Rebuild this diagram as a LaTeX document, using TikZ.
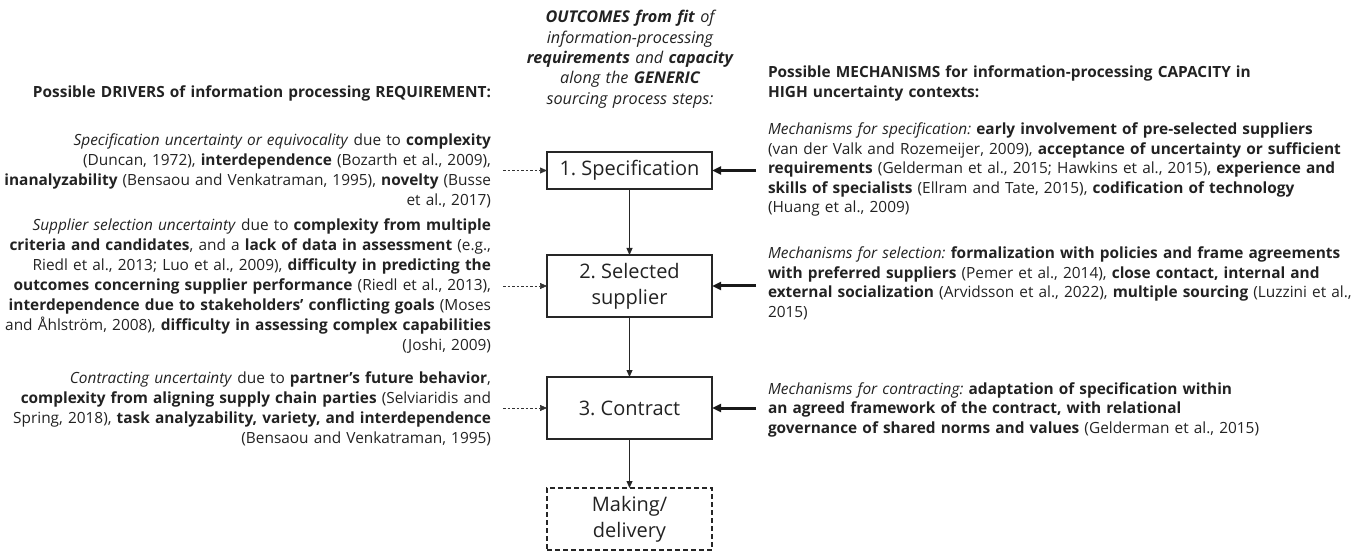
\documentclass[tikz,border=0pt]{standalone}
\usepackage{fontspec}
\setmainfont[Ligatures=NoCommon]{Open Sans}
\usetikzlibrary{arrows.meta}
\frenchspacing

\definecolor{ink}{HTML}{222222}

\tikzset{
  x=1pt, y=-1pt,
  every node/.style={inner sep=0pt, outer sep=0pt, text=ink},
  bodytext/.style={font=\fontsize{15.4}{20}\selectfont},
  mechtext/.style={font=\fontsize{15.4}{19.5}\selectfont},
  headtext/.style={font=\fontsize{16.2}{20.3}\selectfont\itshape},
  stepbox/.style={draw=black!85, line width=1.3pt, minimum width=165pt,
    align=center, font=\fontsize{20}{26}\selectfont},
  flowarrow/.style={-{Triangle[length=7pt,width=6pt]}, line width=0.8pt, draw=black!85},
  driverarrow/.style={-{Triangle[length=7pt,width=6pt]}, line width=0.7pt,
    dash pattern=on 2.5pt off 2pt, draw=black!80},
  mecharrow/.style={-{Triangle[length=9pt,width=8pt]}, line width=3pt, draw=black!90},
}

\begin{document}
\begin{tikzpicture}
\useasboundingbox (0,0) rectangle (1357,553);

% process steps
\node[stepbox, minimum height=37pt] (spec) at (629.5,170.5) {1. Specification};
\node[stepbox, minimum height=62pt] (sel)  at (629.5,286) {2. Selected\\supplier};
\node[stepbox, minimum height=62pt] (con)  at (629.5,408) {3. Contract};
\node[stepbox, minimum height=62pt, dashed, line width=1.2pt, dash pattern=on 5pt off 3pt] (make) at (629.5,519) {Making/\\delivery};

\draw[flowarrow] (spec) -- (sel);
\draw[flowarrow] (sel) -- (con);
\draw[flowarrow] (con) -- (make);

% centre heading
\node[headtext, align=center, anchor=base, text width=260pt] (outcomes) at (630,23)
  {\textbf{OUTCOMES from fit} of\\
   information-processing\\
   \textbf{requirements} and \textbf{capacity}\\
   along the \textbf{GENERIC}\\
   sourcing process steps:};

% drivers (left)
\node[bodytext, anchor=base east, align=right, text width=520pt] (drvhead) at (491,98)
  {\textbf{Possible DRIVERS of information processing REQUIREMENT:}};

\node[bodytext, anchor=base east, align=right, text width=520pt] (drvspec) at (491,146)
  {\textit{Specification uncertainty or equivocality} due to \textbf{complexity}\\
   (Duncan, 1972), \textbf{interdependence} (Bozarth et al., 2009),\\
   \textbf{inanalyzability} (Bensaou and Venkatraman, 1995), \textbf{novelty} (Busse\\
   et al., 2017)};

\node[bodytext, anchor=base east, align=right, text width=520pt] (drvsel) at (491,231)
  {\textit{Supplier selection uncertainty} due to \textbf{complexity from multiple}\\
   \textbf{criteria and candidates}, and a \textbf{lack of data in assessment} (e.g.,\\
   Riedl et al., 2013; Luo et al., 2009), \textbf{difficulty in predicting the}\\
   \textbf{outcomes concerning supplier performance} (Riedl et al., 2013),\\
   \textbf{interdependence due to stakeholders’ conflicting goals} (Moses\\
   and Åhlström, 2008), \textbf{difficulty in assessing complex capabilities}\\
   (Joshi, 2009)};

\node[bodytext, anchor=base east, align=right, text width=520pt] (drvcon) at (491,383)
  {\textit{Contracting uncertainty} due to \textbf{partner’s future behavior},\\
   \textbf{complexity from aligning supply chain parties} (Selviaridis and\\
   Spring, 2018), \textbf{task analyzability, variety, and interdependence}\\
   (Bensaou and Venkatraman, 1995)};

% mechanisms (right)
\node[mechtext, anchor=base west, align=left, text width=588pt] (mechhead) at (768,78)
  {\textbf{Possible MECHANISMS for information-processing CAPACITY in\\
   HIGH uncertainty contexts:}};

\node[mechtext, anchor=base west, align=left, text width=588pt] (mechspec) at (768,135)
  {\textit{Mechanisms for specification:} \textbf{early involvement of pre-selected suppliers}\\
   (van der Valk and Rozemeijer, 2009), \textbf{acceptance of uncertainty or sufficient}\\
   \textbf{requirements} (Gelderman et al., 2015; Hawkins et al., 2015), \textbf{experience and}\\
   \textbf{skills of specialists} (Ellram and Tate, 2015), \textbf{codification of technology}\\
   (Huang et al., 2009)};

\node[mechtext, anchor=base west, align=left, text width=588pt] (mechsel) at (768,259)
  {\textit{Mechanisms for selection:} \textbf{formalization with policies and frame agreements}\\
   \textbf{with preferred suppliers} (Pemer et al., 2014), \textbf{close contact, internal and}\\
   \textbf{external socialization} (Arvidsson et al., 2022), \textbf{multiple sourcing} (Luzzini et al.,\\
   2015)};

\node[mechtext, anchor=base west, align=left, text width=588pt] (mechcon) at (768,394)
  {\textit{Mechanisms for contracting:} \textbf{adaptation of specification within}\\
   \textbf{an agreed framework of the contract, with relational}\\
   \textbf{governance of shared norms and values} (Gelderman et al., 2015)};

% arrow tails
\coordinate (dspec) at (503,170.5);
\coordinate (dsel)  at (503,286);
\coordinate (dcon)  at (503,408);
\coordinate (mspec) at (756,170.5);
\coordinate (msel)  at (756,286);
\coordinate (mcon)  at (756,408);

\draw[driverarrow] (dspec) -- (spec.west);
\draw[driverarrow] (dsel) -- (sel.west);
\draw[driverarrow] (dcon) -- (con.west);
\draw[mecharrow] (mspec) -- (spec.east);
\draw[mecharrow] (msel) -- (sel.east);
\draw[mecharrow] (mcon) -- (con.east);
\end{tikzpicture}
\end{document}
